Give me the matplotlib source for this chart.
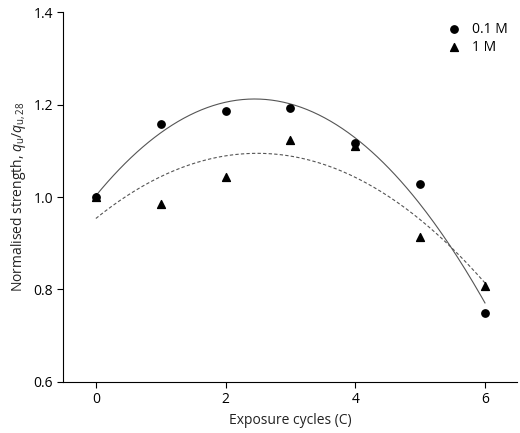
import matplotlib
matplotlib.use("Agg")
import matplotlib.pyplot as plt
import numpy as np

plt.rcParams['font.family'] = ['Open Sans', 'DejaVu Sans']
plt.rcParams['mathtext.fontset'] = 'custom'
plt.rcParams['mathtext.it'] = 'Open Sans:italic'
plt.rcParams['mathtext.rm'] = 'Open Sans'

cycles = [0, 1, 2, 3, 4, 5, 6]
strength_01m = [1.000, 1.158, 1.186, 1.193, 1.117, 1.028, 0.749]
strength_1m = [1.000, 0.985, 1.043, 1.123, 1.110, 0.914, 0.808]

fig, ax = plt.subplots(figsize=(5.2, 4.33), dpi=100)
fig.subplots_adjust(left=0.122, right=0.995, top=0.972, bottom=0.118)

xs = np.linspace(0, 6, 200)
p1 = np.polyfit(cycles, strength_01m, 2)
p2 = np.polyfit(cycles, strength_1m, 2)
ax.plot(xs, np.polyval(p1, xs), color='#555555', lw=0.8, ls='-')
ax.plot(xs, np.polyval(p2, xs), color='#555555', lw=0.8, ls=(0, (3, 2)))

ax.scatter(cycles, strength_01m, marker='o', s=28, color='black', label='0.1 M', zorder=3)
ax.scatter(cycles, strength_1m, marker='^', s=32, color='black', label='1 M', zorder=3)

ax.set_xlim(-0.5, 6.5)
ax.set_ylim(0.6, 1.4)
ax.set_xticks([0, 2, 4, 6])
ax.set_yticks([0.6, 0.8, 1.0, 1.2, 1.4])
ax.set_yticklabels(['0.6', '0.8', '1.0', '1.2', '1.4'])
ax.set_xlabel('Exposure cycles (C)', fontsize=10, color='#222222')
ax.set_ylabel(r'Normalised strength, $q_{\mathrm{u}}/q_{\mathrm{u,28}}$', fontsize=10, color='#222222')
ax.tick_params(labelsize=10, direction='out', length=4)
for s in ['top', 'right']:
    ax.spines[s].set_visible(False)

ax.legend(loc='upper right', frameon=False, fontsize=10, handletextpad=0.3,
          borderaxespad=0.3, labelspacing=0.2)

fig.savefig('out.png', dpi=100)
